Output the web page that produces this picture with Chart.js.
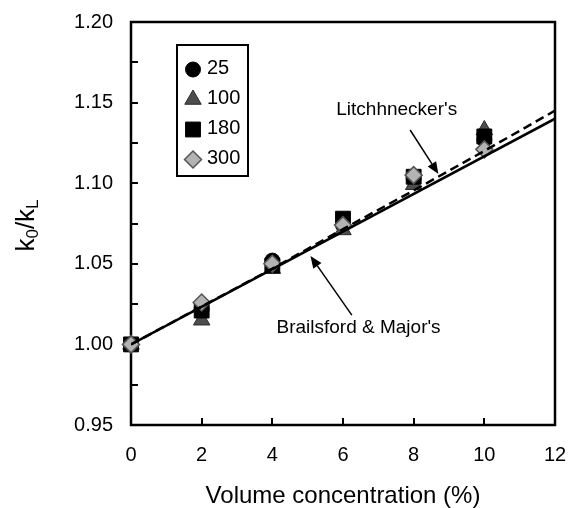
<!DOCTYPE html>
<html>
<head>
<meta charset="utf-8">
<script src="https://cdn.jsdelivr.net/npm/chart.js@4.4.1/dist/chart.umd.min.js"></script>
<style>
    html, body { margin: 0; padding: 0; background: #ffffff; }
    #wrap { width: 568px; height: 508px; }
</style>
</head>
<body>
<div id="wrap"><canvas id="chart" width="568" height="508"></canvas></div>
<script>
// Data
const concentration = [0, 2, 4, 6, 8, 10];
const seriesNames = ['25', '100', '180', '300'];
const ratio25 = [1.000, 1.022, 1.052, 1.074, 1.103, 1.127];
const ratio100 = [1.000, 1.015, 1.047, 1.071, 1.099, 1.133];
const ratio180 = [1.000, 1.021, 1.049, 1.078, 1.104, 1.129];
const ratio300 = [1.000, 1.026, 1.050, 1.074, 1.105, 1.121];

// Model curves
const brailsfordX = [0, 12];
const brailsfordY = [1.000, 1.140];
const litchX = [0, 2, 4, 6, 8, 10, 12];
const litchY = [1.000, 1.0235, 1.047, 1.0715, 1.0955, 1.120, 1.145];

// Axis ticks
const xTickValues = [0, 2, 4, 6, 8, 10, 12];
const yTickValues = [0.95, 0.975, 1.00, 1.025, 1.05, 1.075, 1.10, 1.125, 1.15, 1.175, 1.20];
const yLabelValues = [0.95, 1.00, 1.05, 1.10, 1.15, 1.20];

// Text annotations (data coords) with arrows
const annotations = [
    { text: "Litchhnecker's", x: 7.52, y: 1.1426, from: [7.90, 1.133], to: [8.70, 1.1057] },
    { text: "Brailsford & Major's", x: 6.44, y: 1.0071, from: [6.25, 1.0182], to: [5.08, 1.0548] }
];

const FONT = '"Liberation Sans", Arial, Helvetica, sans-serif';

const markerStyles = [
    { pointStyle: 'circle', radius: 7.5, fill: '#000000', stroke: '#000000', border: 1 },
    { pointStyle: 'triangle', radius: 9.5, fill: '#4d4d4d', stroke: '#2b2b2b', border: 1 },
    { pointStyle: 'rect', radius: 10.5, fill: '#000000', stroke: '#000000', border: 1 },
    { pointStyle: 'rectRot', radius: 8.5, fill: '#b3b3b3', stroke: '#555555', border: 1.5 }
];
const seriesValues = [ratio25, ratio100, ratio180, ratio300];

function toPoints(xs, ys) {
    return xs.map((x, i) => ({ x: x, y: ys[i] }));
}

function drawMarker(ctx, style, x, y) {
    const r = style.radius;
    ctx.save();
    ctx.fillStyle = style.fill;
    ctx.strokeStyle = style.stroke;
    ctx.lineWidth = style.border;
    ctx.beginPath();
    if (style.pointStyle === 'circle') {
        ctx.arc(x, y, r, 0, Math.PI * 2);
    } else if (style.pointStyle === 'triangle') {
        ctx.moveTo(x, y - r);
        ctx.lineTo(x + r * Math.sin(Math.PI * 2 / 3), y - r * Math.cos(Math.PI * 2 / 3));
        ctx.lineTo(x - r * Math.sin(Math.PI * 2 / 3), y - r * Math.cos(Math.PI * 2 / 3));
    } else if (style.pointStyle === 'rect') {
        const s = r * Math.SQRT1_2;
        ctx.rect(x - s, y - s, 2 * s, 2 * s);
    } else {
        ctx.moveTo(x - r, y);
        ctx.lineTo(x, y - r);
        ctx.lineTo(x + r, y);
        ctx.lineTo(x, y + r);
    }
    ctx.closePath();
    ctx.fill();
    ctx.stroke();
    ctx.restore();
}

const markerDatasets = seriesNames.map((name, i) => ({
    label: name,
    data: toPoints(concentration, seriesValues[i]),
    pointStyle: markerStyles[i].pointStyle,
    pointRadius: markerStyles[i].radius,
    pointBackgroundColor: markerStyles[i].fill,
    pointBorderColor: markerStyles[i].stroke,
    pointBorderWidth: markerStyles[i].border,
    showLine: false,
    clip: false,
    order: 5 - i
}));

const lineDatasets = [
    {
        label: "Brailsford & Major's",
        data: toPoints(brailsfordX, brailsfordY),
        showLine: true,
        borderColor: '#000000',
        borderWidth: 2.5,
        pointRadius: 0,
        order: 0
    },
    {
        label: "Litchhnecker's",
        data: toPoints(litchX, litchY),
        showLine: true,
        borderColor: '#000000',
        borderWidth: 2.5,
        borderDash: [9, 5],
        pointRadius: 0,
        order: 1
    }
];

// Frame, inward ticks, annotations, legend and axis titles
const decorations = {
    id: 'decorations',
    beforeDatasetsDraw(chart) {
        const ctx = chart.ctx;
        const a = chart.chartArea;
        const xs = chart.scales.x;
        const ys = chart.scales.y;
        ctx.save();
        ctx.strokeStyle = '#000000';
        ctx.lineWidth = 2.5;
        ctx.strokeRect(a.left, a.top, a.right - a.left, a.bottom - a.top);
        ctx.lineWidth = 2;
        ctx.beginPath();
        yTickValues.slice(1, -1).forEach(v => {
            const py = Math.round(ys.getPixelForValue(v));
            ctx.moveTo(a.left, py);
            ctx.lineTo(a.left + 7, py);
        });
        xTickValues.slice(1, -1).forEach(v => {
            const px = Math.round(xs.getPixelForValue(v));
            ctx.moveTo(px, a.bottom);
            ctx.lineTo(px, a.bottom - 7);
        });
        ctx.stroke();
        ctx.restore();
    },
    afterDatasetsDraw(chart) {
        const ctx = chart.ctx;
        const a = chart.chartArea;
        const xs = chart.scales.x;
        const ys = chart.scales.y;
        ctx.save();
        ctx.fillStyle = '#000000';
        ctx.strokeStyle = '#000000';

        // annotations
        annotations.forEach(an => {
            ctx.font = '19px ' + FONT;
            ctx.textAlign = 'center';
            ctx.textBaseline = 'alphabetic';
            ctx.fillText(an.text, xs.getPixelForValue(an.x), ys.getPixelForValue(an.y));
            const x0 = xs.getPixelForValue(an.from[0]), y0 = ys.getPixelForValue(an.from[1]);
            const x1 = xs.getPixelForValue(an.to[0]), y1 = ys.getPixelForValue(an.to[1]);
            const ang = Math.atan2(y1 - y0, x1 - x0);
            const len = 12, half = 5;
            const bx = x1 - len * Math.cos(ang), by = y1 - len * Math.sin(ang);
            ctx.lineWidth = 1.5;
            ctx.beginPath();
            ctx.moveTo(x0, y0);
            ctx.lineTo(bx, by);
            ctx.stroke();
            ctx.beginPath();
            ctx.moveTo(x1, y1);
            ctx.lineTo(bx + half * Math.sin(ang), by - half * Math.cos(ang));
            ctx.lineTo(bx - half * Math.sin(ang), by + half * Math.cos(ang));
            ctx.closePath();
            ctx.fill();
        });

        // legend box
        const lg = { left: 177, top: 45, right: 248, bottom: 176, first: 68, step: 30 };
        ctx.fillStyle = '#ffffff';
        ctx.fillRect(lg.left, lg.top, lg.right - lg.left, lg.bottom - lg.top);
        ctx.lineWidth = 2;
        ctx.strokeRect(lg.left, lg.top, lg.right - lg.left, lg.bottom - lg.top);
        ctx.fillStyle = '#000000';
        ctx.font = '20px ' + FONT;
        ctx.textAlign = 'left';
        ctx.textBaseline = 'middle';
        seriesNames.forEach((name, i) => {
            const cy = lg.first + i * lg.step;
            drawMarker(ctx, markerStyles[i], 193, cy + 1.5);
            ctx.fillText(name, 207, cy);
        });

        // x axis title
        ctx.font = '24px ' + FONT;
        ctx.textAlign = 'center';
        ctx.textBaseline = 'alphabetic';
        ctx.fillText('Volume concentration (%)', (a.left + a.right) / 2, 503);

        // y axis title with subscripts
        const parts = [
            { t: 'k', sub: false }, { t: '0', sub: true }, { t: '/', sub: false },
            { t: 'k', sub: false }, { t: 'L', sub: true }
        ];
        const mainFont = '26px ' + FONT, subFont = '17px ' + FONT;
        let total = 0;
        parts.forEach(p => {
            ctx.font = p.sub ? subFont : mainFont;
            p.w = ctx.measureText(p.t).width;
            total += p.w;
        });
        ctx.translate(34, (a.top + a.bottom) / 2 + 2);
        ctx.rotate(-Math.PI / 2);
        ctx.textAlign = 'left';
        let cx = -total / 2;
        parts.forEach(p => {
            ctx.font = p.sub ? subFont : mainFont;
            ctx.fillText(p.t, cx, p.sub ? 4 : 0);
            cx += p.w;
        });
        ctx.restore();
    }
};

new Chart(document.getElementById('chart').getContext('2d'), {
    type: 'scatter',
    data: { datasets: lineDatasets.concat(markerDatasets) },
    options: {
        responsive: false,
        animation: false,
        layout: { padding: { top: 22, right: 13, left: 0, bottom: 0 } },
        plugins: {
            legend: { display: false },
            tooltip: { enabled: false }
        },
        scales: {
            x: {
                type: 'linear',
                min: 0,
                max: 12,
                afterBuildTicks: s => { s.ticks = xTickValues.map(v => ({ value: v })); },
                afterFit: s => {
                    s.height = 83;
                    s.paddingLeft = 0;
                    s.paddingRight = 0;
                },
                grid: { display: false, drawTicks: false },
                border: { display: false },
                ticks: {
                    padding: 18,
                    color: '#000000',
                    autoSkip: false,
                    maxRotation: 0,
                    font: { family: FONT, size: 20 }
                }
            },
            y: {
                type: 'linear',
                min: 0.95,
                max: 1.20,
                afterBuildTicks: s => { s.ticks = yTickValues.map(v => ({ value: v })); },
                afterFit: s => {
                    s.width = 131;
                    s.paddingTop = 0;
                    s.paddingBottom = 0;
                },
                grid: { display: false, drawTicks: false },
                border: { display: false },
                ticks: {
                    padding: 18,
                    color: '#000000',
                    autoSkip: false,
                    font: { family: FONT, size: 20 },
                    callback: v => yLabelValues.some(l => Math.abs(l - v) < 1e-6) ? v.toFixed(2) : ''
                }
            }
        }
    },
    plugins: [decorations]
});
</script>
</body>
</html>
